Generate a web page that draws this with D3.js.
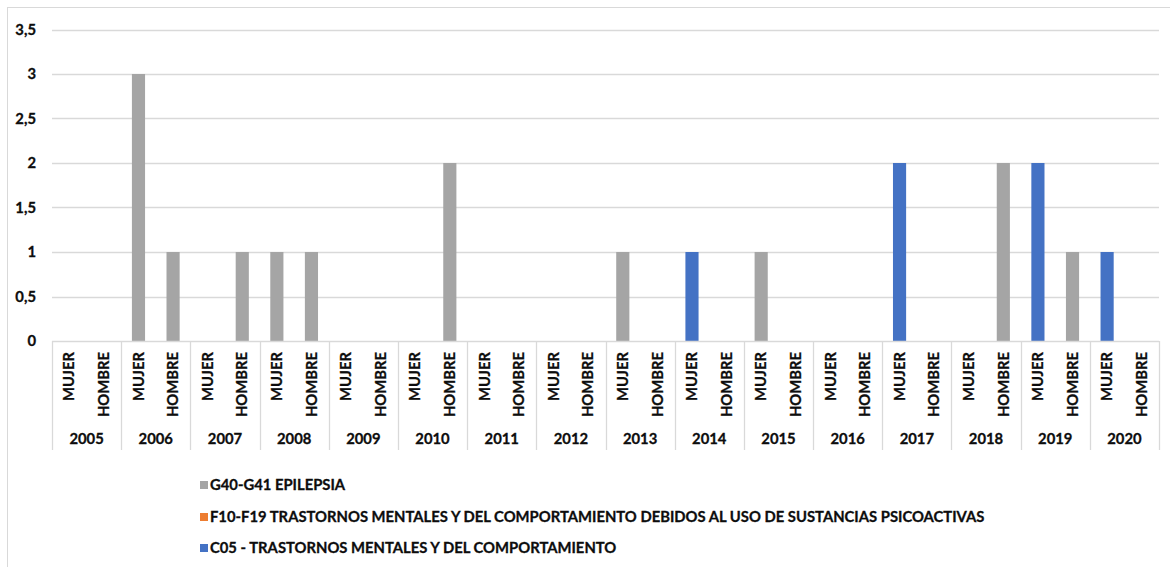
<!DOCTYPE html>
<html>
<head>
<meta charset="utf-8">
<script src="https://cdn.jsdelivr.net/npm/d3@7"></script>
<style>
  html, body { margin: 0; padding: 0; background: #fff; }
  svg { display: block; }
  text { font-family: Lato, Roboto, "Liberation Sans", sans-serif; font-weight: bold; fill: #0d0d0d; stroke: #0d0d0d; stroke-width: 0.3px; }
</style>
</head>
<body>
<svg id="chart" width="1170" height="567"></svg>
<script>
const years = ["2005","2006","2007","2008","2009","2010","2011","2012","2013","2014","2015","2016","2017","2018","2019","2020"];
const sexes = ["MUJER","HOMBRE"];
const seriesNames = [
  "G40-G41 EPILEPSIA",
  "F10-F19 TRASTORNOS MENTALES Y DEL COMPORTAMIENTO DEBIDOS AL USO DE SUSTANCIAS PSICOACTIVAS",
  "C05 - TRASTORNOS MENTALES Y DEL COMPORTAMIENTO"
];
const seriesColors = ["#A5A5A5", "#ED7D31", "#4472C4"];
// values per year: [MUJER, HOMBRE]
const epilepsia = [[0,0],[3,1],[0,1],[1,1],[0,0],[0,2],[0,0],[0,0],[1,0],[0,0],[1,0],[0,0],[0,0],[0,2],[0,1],[0,0]];
const f10f19    = [[0,0],[0,0],[0,0],[0,0],[0,0],[0,0],[0,0],[0,0],[0,0],[0,0],[0,0],[0,0],[0,0],[0,0],[0,0],[0,0]];
const c05       = [[0,0],[0,0],[0,0],[0,0],[0,0],[0,0],[0,0],[0,0],[0,0],[1,0],[0,0],[0,0],[2,0],[0,0],[2,0],[1,0]];
const yTicks = [0, 0.5, 1, 1.5, 2, 2.5, 3, 3.5];

const seriesValues = [epilepsia, f10f19, c05];
const rows = [];
years.forEach((yr, i) => sexes.forEach((s, j) => {
  const r = { year: yr, sex: s };
  seriesNames.forEach((n, k) => r[n] = seriesValues[k][i][j]);
  rows.push(r);
}));

const svg = d3.select("#chart");
const pLeft = 52, pRight = 1159, pTop = 29.5, pBottom = 341;
const gridColor = "#D9D9D9";
const fs = 14.8;

// outer chart border
svg.append("rect").attr("x", 7.5).attr("y", 7.5).attr("width", 1170).attr("height", 600)
  .attr("fill", "none").attr("stroke", gridColor).attr("stroke-width", 1);

const x0 = d3.scaleBand().domain(years).range([pLeft, pRight]).padding(0);
const x1 = d3.scaleBand().domain(sexes).range([0, x0.bandwidth()]).paddingInner(0.62).paddingOuter(0.31);
const y = d3.scaleLinear().domain([0, 3.5]).range([pBottom, pTop]);
const color = d3.scaleOrdinal().domain(seriesNames).range(seriesColors);
const loc = d3.formatLocale({decimal: ",", thousands: ".", grouping: [3], currency: ["", ""]});
const fmt = v => loc.format("")(v);

// gridlines
svg.append("g").selectAll("line").data(yTicks.filter(t => t > 0)).join("line")
  .attr("x1", pLeft).attr("x2", pRight)
  .attr("y1", d => Math.round(y(d)) + 0.5).attr("y2", d => Math.round(y(d)) + 0.5)
  .attr("stroke", gridColor).attr("stroke-width", 1.3);

// y labels
svg.append("g").selectAll("text").data(yTicks).join("text")
  .attr("x", 36).attr("y", d => y(d)).attr("dy", "0.35em")
  .attr("text-anchor", "end").attr("font-size", fs)
  .text(d => fmt(d));

// stacked bars
const stack = d3.stack().keys(seriesNames)(rows);
svg.append("g").selectAll("g").data(stack).join("g")
  .attr("fill", d => color(d.key))
  .selectAll("rect").data(d => d).join("rect")
  .attr("x", d => x0(d.data.year) + x1(d.data.sex))
  .attr("width", x1.bandwidth())
  .attr("y", d => y(d[1]))
  .attr("height", d => y(d[0]) - y(d[1]));

// x axis line
svg.append("line").attr("x1", pLeft).attr("x2", pRight)
  .attr("y1", pBottom + 0.5).attr("y2", pBottom + 0.5)
  .attr("stroke", gridColor).attr("stroke-width", 1.3);

// year separators
const seps = years.map(yv => x0(yv)).concat([pRight]);
svg.append("g").selectAll("line").data(seps).join("line")
  .attr("x1", d => Math.round(d) + 0.5).attr("x2", d => Math.round(d) + 0.5)
  .attr("y1", pBottom).attr("y2", 450)
  .attr("stroke", gridColor).attr("stroke-width", 1.3);

// sex labels
svg.append("g").selectAll("text").data(rows).join("text")
  .attr("transform", d => `translate(${x0(d.year) + x1(d.sex) + x1.bandwidth()/2},352) rotate(-90)`)
  .attr("text-anchor", "end").attr("dy", "0.35em").attr("font-size", fs)
  .text(d => d.sex);

// year labels
svg.append("g").selectAll("text").data(years).join("text")
  .attr("x", d => x0(d) + x0.bandwidth()/2).attr("y", 439).attr("dy", "0.35em")
  .attr("text-anchor", "middle").attr("font-size", fs)
  .text(d => d);

// legend
const legendY = [485, 517, 548];
const lg = svg.append("g").selectAll("g").data(seriesNames).join("g")
  .attr("transform", (d, i) => `translate(200,${legendY[i]})`);
lg.append("rect").attr("x", 0).attr("y", -4).attr("width", 8).attr("height", 8).attr("fill", d => color(d));
lg.append("text").attr("x", 10).attr("dy", "0.35em").attr("font-size", fs).text(d => d);
</script>
</body>
</html>
